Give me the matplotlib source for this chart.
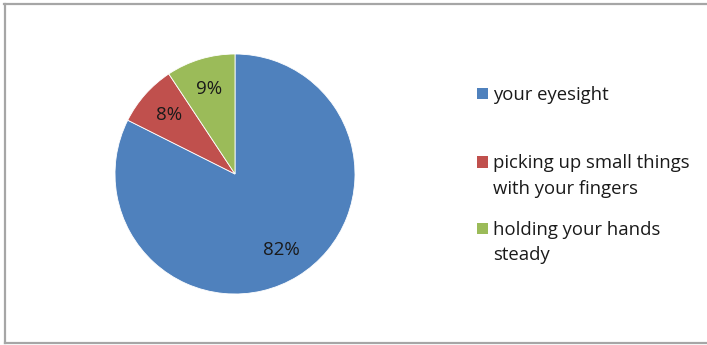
import matplotlib
matplotlib.use("Agg")
import matplotlib.pyplot as plt
from matplotlib.patches import Rectangle
from matplotlib.lines import Line2D

categories = ["your eyesight", "picking up small things\nwith your fingers", "holding your hands\nsteady"]
values = [82.4, 8.3, 9.3]
colors = ["#4F81BD", "#C0504D", "#9BBB59"]

W, H = 707, 345
fig = plt.figure(figsize=(W / 100, H / 100), dpi=100)
plt.rcParams['font.family'] = ['Open Sans', 'DejaVu Sans']

def fx(x):
    return x / W

def fy(y):
    return 1 - y / H

# border
border_color = "#a6a6a6"
fig.add_artist(Line2D([fx(4), fx(707)], [fy(4), fy(4)], color=border_color, lw=1.6, transform=fig.transFigure))
fig.add_artist(Line2D([fx(5), fx(5)], [fy(4), fy(343)], color=border_color, lw=1.6, transform=fig.transFigure))
fig.add_artist(Line2D([fx(5), fx(707)], [fy(343), fy(343)], color=border_color, lw=1.6, transform=fig.transFigure))

cx, cy, r = 235, 174, 120
ax = fig.add_axes([fx(cx - r), fy(cy + r), 2 * r / W, 2 * r / H])
wedges, texts, autotexts = ax.pie(
    values, colors=colors, startangle=90, counterclock=False,
    autopct='%.0f%%', pctdistance=0.74, radius=1.0,
    wedgeprops=dict(linewidth=0.6, edgecolor='white'),
    textprops=dict(fontsize=13.5, color='#1a1a1a'),
)
ax.set_xlim(-1, 1)
ax.set_ylim(-1, 1)
ax.set_aspect('equal')
ax.axis('off')

# legend
sq = 11.5
square_y = [93.5, 162, 228.5]
baseline_y = [100, 168.5, 235]
line_step = 25.5
for cat, col, ys, yb in zip(categories, colors, square_y, baseline_y):
    fig.add_artist(Rectangle((fx(477), fy(ys + sq / 2)), sq / W, sq / H,
                             transform=fig.transFigure, facecolor=col, edgecolor='none'))
    for i, line in enumerate(cat.split("\n")):
        fig.text(fx(493), fy(yb + i * line_step), line, ha='left', va='baseline',
                 fontsize=13.3, color='#1a1a1a')

fig.savefig("out.png", dpi=100)
